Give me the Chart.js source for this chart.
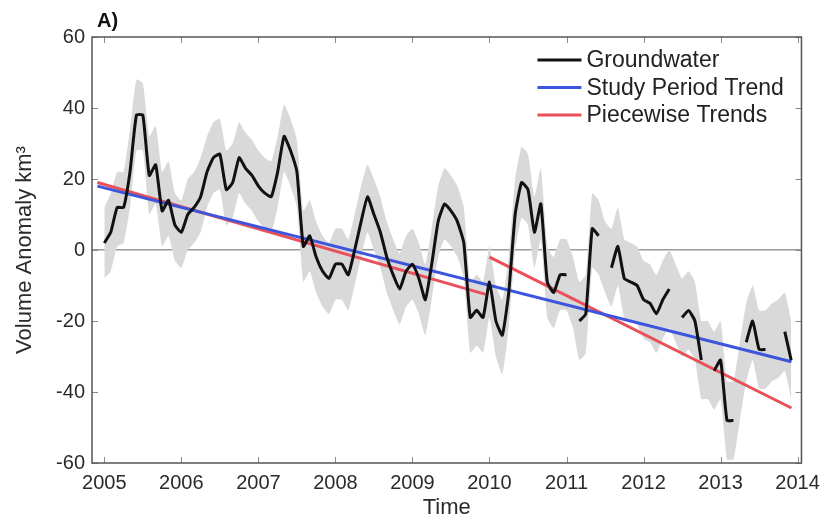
<!DOCTYPE html>
<html>
<head>
<meta charset="utf-8">
<script src="https://cdn.jsdelivr.net/npm/chart.js@4.4.0/dist/chart.umd.min.js"></script>
<style>
  html, body { margin: 0; padding: 0; background: #fff; }
  canvas { display: block; }
</style>
</head>
<body>
<canvas id="myChart" width="828" height="519"></canvas>
<script>
// monthly series, first value = Jan 2005
let firstYear = 2005;
let yearTicks = [2005, 2006, 2007, 2008, 2009, 2010, 2011, 2012, 2013, 2014];
let volumeTicks = [-60, -40, -20, 0, 20, 40, 60];

let groundwater = [
    2, 5, 12, 12, 22, 38, 38, 21, 24, 11, 14, 7,
    5, 10, 12, 15, 22, 26, 27, 17, 19, 26, 23, 21,
    18, 16, 15, 22, 32, 28, 22, 1, 4, -2, -6, -8,
    -4, -4, -7, 0, 8, 15, 10, 5, -2, -7, -11, -6,
    -4, -8, -14, -4, 8, 13, 11, 8, 2, -19, -17, -19,
    -9, -20, -24, -12, 10, 19, 17, 5, 13, -9, -12, -7,
    -7, null, -20, -18, 6, 4, null, -5, 1, -8, -9, -10,
    -14, -15, -18, -14, -11, null, -19, -17, -20, -31, null, -34,
    -31, -48, -48, null, -26, -20, -28, -28, null, null, -23, -31
];

let bandUpper = [
    12, 16, 22, 22, 34, 48, 47, 32, 35, 22, 25, 16,
    14, 20, 22, 26, 32, 36, 37, 28, 30, 36, 33, 31,
    28, 26, 25, 32, 41, 37, 31, 11, 14, 8, 4, 2,
    6, 6, 3, 10, 18, 24, 20, 15, 8, 3, -1, 4,
    6, 2, -4, 6, 18, 23, 21, 18, 12, -9, -7, -9,
    1, -10, -14, -2, 20, 29, 27, 15, 23, 1, -2, 3,
    3, -2, -9, -7, 16, 14, 8, 6, 12, 3, 2, 1,
    -3, -4, -7, -3, 0, -4, -8, -6, -9, -20, -20, -23,
    -20, -37, -37, -26, -15, -10, -17, -17, -15, -14, -12, -20
];

let bandLower = [
    -8, -6, 1, 2, 12, 28, 28, 10, 13, 1, 4, -3,
    -5, 0, 2, 5, 12, 16, 17, 7, 9, 16, 13, 11,
    8, 6, 5, 12, 22, 18, 12, -9, -6, -12, -16, -18,
    -14, -14, -17, -10, -2, 5, 0, -5, -12, -17, -21, -16,
    -14, -18, -24, -14, -2, 3, 1, -2, -8, -29, -27, -29,
    -19, -30, -35, -22, 0, 9, 7, -5, 3, -19, -22, -17,
    -17, -22, -31, -29, -5, -7, -12, -16, -10, -19, -20, -21,
    -25, -26, -29, -25, -22, -26, -30, -28, -31, -42, -42, -45,
    -42, -59, -59, -48, -37, -31, -39, -39, -37, -36, -34, -42
];

let studyTrendYears = [2004.91, 2013.92];
let studyTrendValues = [18, -31.5];

let piecewiseYears = [2004.91, 2009.95, 2009.97, 2010.0, 2013.92];
let piecewiseValues = [19, -12.5, null, -2, -44.5];

let fontName = '"Liberation Sans", Arial, Helvetica, sans-serif';

function monthly(values) {
    return values.map((v, i) => ({ x: firstYear + i / 12, y: v }));
}

function pairs(xs, ys) {
    return xs.map((x, i) => ({ x: x, y: ys[i] }));
}

// MATLAB style box with inward ticks
const axisBox = {
    id: 'axisBox',
    afterDatasetsDraw(chart) {
        const ctx = chart.ctx;
        const a = chart.chartArea;
        const xs = chart.scales.x;
        const ys = chart.scales.y;
        ctx.save();
        ctx.strokeStyle = '#8a8a8a';
        ctx.lineWidth = 1;
        for (const t of yearTicks) {
            const px = Math.round(xs.getPixelForValue(t)) + 0.5;
            ctx.beginPath();
            ctx.moveTo(px, a.bottom); ctx.lineTo(px, a.bottom - 6);
            ctx.moveTo(px, a.top); ctx.lineTo(px, a.top + 6);
            ctx.stroke();
        }
        for (const t of volumeTicks) {
            const py = Math.round(ys.getPixelForValue(t)) + 0.5;
            ctx.beginPath();
            ctx.moveTo(a.left, py); ctx.lineTo(a.left + 6, py);
            ctx.moveTo(a.right, py); ctx.lineTo(a.right - 6, py);
            ctx.stroke();
        }
        ctx.strokeStyle = '#555';
        ctx.lineWidth = 1.5;
        ctx.strokeRect(a.left, a.top, a.right - a.left, a.bottom - a.top);

        ctx.fillStyle = '#111';
        ctx.font = 'bold 20px ' + fontName;
        ctx.textBaseline = 'alphabetic';
        ctx.fillText('A)', a.left + 5, 27);
        ctx.restore();
    }
};

const boxLegend = {
    id: 'boxLegend',
    afterDraw(chart) {
        const ctx = chart.ctx;
        const a = chart.chartArea;
        const items = chart.data.datasets.filter(d => d.inLegend);
        ctx.save();
        ctx.font = '23px ' + fontName;
        ctx.textBaseline = 'middle';
        items.forEach((d, i) => {
            const y = a.top + 23 + i * 27.5;
            ctx.strokeStyle = d.borderColor;
            ctx.lineWidth = 3;
            ctx.beginPath();
            ctx.moveTo(a.right - 264, y);
            ctx.lineTo(a.right - 220, y);
            ctx.stroke();
            ctx.fillStyle = '#222';
            ctx.fillText(d.label, a.right - 215, y + 1);
        });
        ctx.restore();
    }
};

const datasets = [
    {
        label: 'Groundwater',
        inLegend: true,
        data: monthly(groundwater),
        borderColor: '#111111',
        borderWidth: 3,
        pointRadius: 0,
        tension: 0.15,
        spanGaps: false,
        fill: false
    },
    {
        label: 'Study Period Trend',
        inLegend: true,
        data: pairs(studyTrendYears, studyTrendValues),
        borderColor: '#3d55dc',
        borderWidth: 3,
        pointRadius: 0,
        fill: false
    },
    {
        label: 'Piecewise Trends',
        inLegend: true,
        data: pairs(piecewiseYears, piecewiseValues),
        borderColor: '#e8505a',
        borderWidth: 3,
        pointRadius: 0,
        spanGaps: false,
        fill: false
    },
    {
        label: 'upper',
        data: monthly(bandUpper),
        borderWidth: 0,
        borderColor: 'rgba(0,0,0,0)',
        backgroundColor: '#d9d9d9',
        pointRadius: 0,
        tension: 0.15,
        fill: '+1'
    },
    {
        label: 'lower',
        data: monthly(bandLower),
        borderWidth: 0,
        borderColor: 'rgba(0,0,0,0)',
        pointRadius: 0,
        tension: 0.15,
        fill: false
    }
];

const conf = {
    type: 'line',
    data: { datasets },
    options: {
        responsive: false,
        animation: false,
        layout: { padding: { top: 37, right: 26, left: 0, bottom: 0 } },
        plugins: {
            legend: { display: false },
            tooltip: { enabled: false }
        },
        scales: {
            x: {
                type: 'linear',
                min: 2004.84,
                max: 2014.05,
                afterBuildTicks: scale => { scale.ticks = yearTicks.map(v => ({ value: v })); },
                afterFit: scale => { scale.height = 56; },
                border: { display: false },
                grid: { display: false, drawTicks: false },
                ticks: {
                    color: '#2a2a2a',
                    padding: 8,
                    font: { family: fontName, size: 20 },
                    callback: v => String(v)
                },
                title: {
                    display: true,
                    text: 'Time',
                    color: '#2a2a2a',
                    font: { family: fontName, size: 22, lineHeight: 1 },
                    padding: { top: 3, bottom: 0 }
                }
            },
            y: {
                min: -60,
                max: 60,
                afterBuildTicks: scale => { scale.ticks = volumeTicks.map(v => ({ value: v })); },
                afterFit: scale => { scale.width = 92; },
                border: { display: false },
                grid: {
                    drawTicks: false,
                    lineWidth: 1.5,
                    color: c => c.tick && c.tick.value === 0 ? '#9a9a9a' : 'rgba(0,0,0,0)'
                },
                ticks: {
                    color: '#2a2a2a',
                    padding: 7,
                    font: { family: fontName, size: 20 }
                },
                title: {
                    display: true,
                    text: 'Volume Anomaly km³',
                    color: '#2a2a2a',
                    font: { family: fontName, size: 22, lineHeight: 1 },
                    padding: { top: 14, bottom: 0 }
                }
            }
        }
    },
    plugins: [axisBox, boxLegend]
};

let grafico = new Chart(document.querySelector('#myChart'), conf);
</script>
</body>
</html>
